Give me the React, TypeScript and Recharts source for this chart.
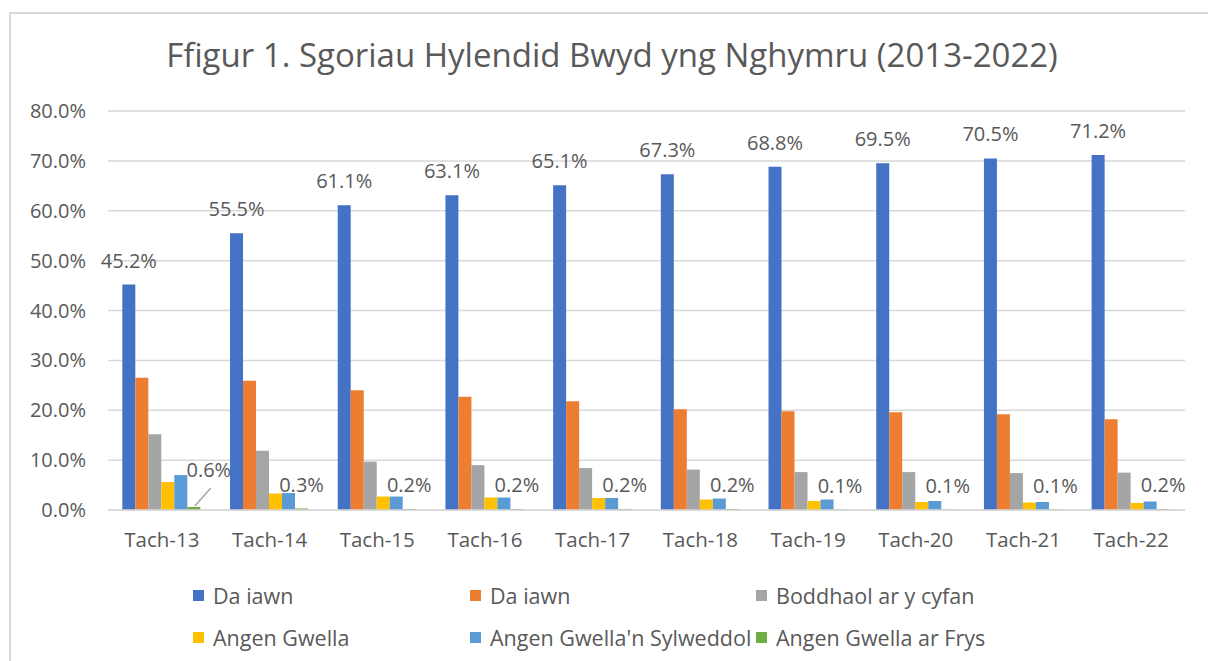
import { BarChart, Bar, XAxis, YAxis, CartesianGrid, LabelList } from "recharts"

const categories = ["Tach-13", "Tach-14", "Tach-15", "Tach-16", "Tach-17", "Tach-18", "Tach-19", "Tach-20", "Tach-21", "Tach-22"]
const daIawn5 = [45.2, 55.5, 61.1, 63.1, 65.1, 67.3, 68.8, 69.5, 70.5, 71.2]
const daIawn4 = [26.5, 25.9, 24.0, 22.7, 21.8, 20.2, 19.8, 19.6, 19.2, 18.2]
const boddhaol = [15.2, 11.9, 9.7, 9.0, 8.4, 8.1, 7.6, 7.6, 7.4, 7.5]
const angenGwella = [5.6, 3.3, 2.7, 2.5, 2.4, 2.1, 1.8, 1.6, 1.5, 1.4]
const sylweddol = [7.0, 3.4, 2.7, 2.5, 2.4, 2.3, 2.1, 1.8, 1.6, 1.7]
const arFrys = [0.6, 0.3, 0.2, 0.2, 0.2, 0.2, 0.1, 0.1, 0.1, 0.2]
const yTicks = [0, 10, 20, 30, 40, 50, 60, 70, 80]

const data = categories.map((cat, i) => ({
  cat,
  s1: daIawn5[i],
  s2: daIawn4[i],
  s3: boddhaol[i],
  s4: angenGwella[i],
  s5: sylweddol[i],
  s6: arFrys[i],
}))

const series = [
  { key: "s1", name: "Da iawn", color: "#4472C4" },
  { key: "s2", name: "Da iawn", color: "#ED7D31" },
  { key: "s3", name: "Boddhaol ar y cyfan", color: "#A5A5A5" },
  { key: "s4", name: "Angen Gwella", color: "#FFC000" },
  { key: "s5", name: "Angen Gwella'n Sylweddol", color: "#5B9BD5" },
  { key: "s6", name: "Angen Gwella ar Frys", color: "#70AD47" },
]

const textColor = "#595959"
const fmt = (v: number) => `${v.toFixed(1)}%`

function GreenLabel(props: any) {
  const { x, y, width, value, index } = props
  const cx = x + width / 2
  if (index === 0) {
    return (
      <g>
        <line x1={cx + 1} y1={y - 1} x2={cx + 17} y2={y - 19} stroke="#a6a6a6" strokeWidth={1.5} />
        <text x={cx + 15} y={y - 30} textAnchor="middle" fontSize={20} fill={textColor}>
          {fmt(value)}
        </text>
      </g>
    )
  }
  return (
    <text x={cx} y={y - 17} textAnchor="middle" fontSize={20} fill={textColor}>
      {fmt(value)}
    </text>
  )
}

export default function App() {
  return (
    <div
      style={{
        position: "fixed",
        left: 9,
        top: 12,
        width: 1199,
        height: 649,
        borderTop: "2px solid #d9d9d9",
        borderLeft: "2px solid #d9d9d9",
        background: "#fff",
        fontFamily: "'Open Sans', sans-serif",
        color: textColor,
        overflow: "hidden",
      }}
    >
      <div
        style={{
          position: "absolute",
          left: 0,
          width: 1202,
          top: 20,
          textAlign: "center",
          fontSize: 33,
          lineHeight: "42px",
        }}
      >
        Ffigur 1. Sgoriau Hylendid Bwyd yng Nghymru (2013-2022)
      </div>

      <BarChart
        width={1190}
        height={647}
        data={data}
        margin={{ top: 97, right: 16, left: 0, bottom: 121 }}
        barCategoryGap="13.3%"
        barGap={0}
      >
        <CartesianGrid vertical={false} stroke="#d9d9d9" strokeWidth={1.5} />
        <XAxis
          dataKey="cat"
          height={30}
          tickLine={false}
          tickSize={0}
          tickMargin={22}
          axisLine={{ stroke: "#d9d9d9", strokeWidth: 1.5 }}
          tick={{ fill: textColor, fontSize: 20.5 }}
        />
        <YAxis
          width={97}
          domain={[0, 80]}
          ticks={yTicks}
          tickFormatter={fmt}
          axisLine={false}
          tickLine={false}
          tickSize={0}
          tickMargin={22}
          tick={{ fill: textColor, fontSize: 20 }}
        />
        {series.map((s) => (
          <Bar key={s.key} dataKey={s.key} name={s.name} fill={s.color} isAnimationActive={false}>
            {s.key === "s1" && (
              <LabelList
                dataKey="s1"
                position="top"
                offset={17}
                formatter={(v: any) => fmt(Number(v))}
                style={{ fill: textColor, fontSize: 20 }}
              />
            )}
            {s.key === "s6" && <LabelList dataKey="s6" content={GreenLabel} />}
          </Bar>
        ))}
      </BarChart>

      {series.map((s, i) => {
        const col = i % 3
        const row = Math.floor(i / 3)
        return (
          <div
            key={i}
            style={{
              position: "absolute",
              left: [182, 459, 745][col],
              top: [581, 623][row] - 14,
              height: 28,
              display: "flex",
              alignItems: "center",
              fontSize: 21.5,
              whiteSpace: "nowrap",
            }}
          >
            <span style={{ width: 11, height: 11, background: s.color, marginRight: 9, display: "inline-block" }} />
            {s.name}
          </div>
        )
      })}
    </div>
  )
}
